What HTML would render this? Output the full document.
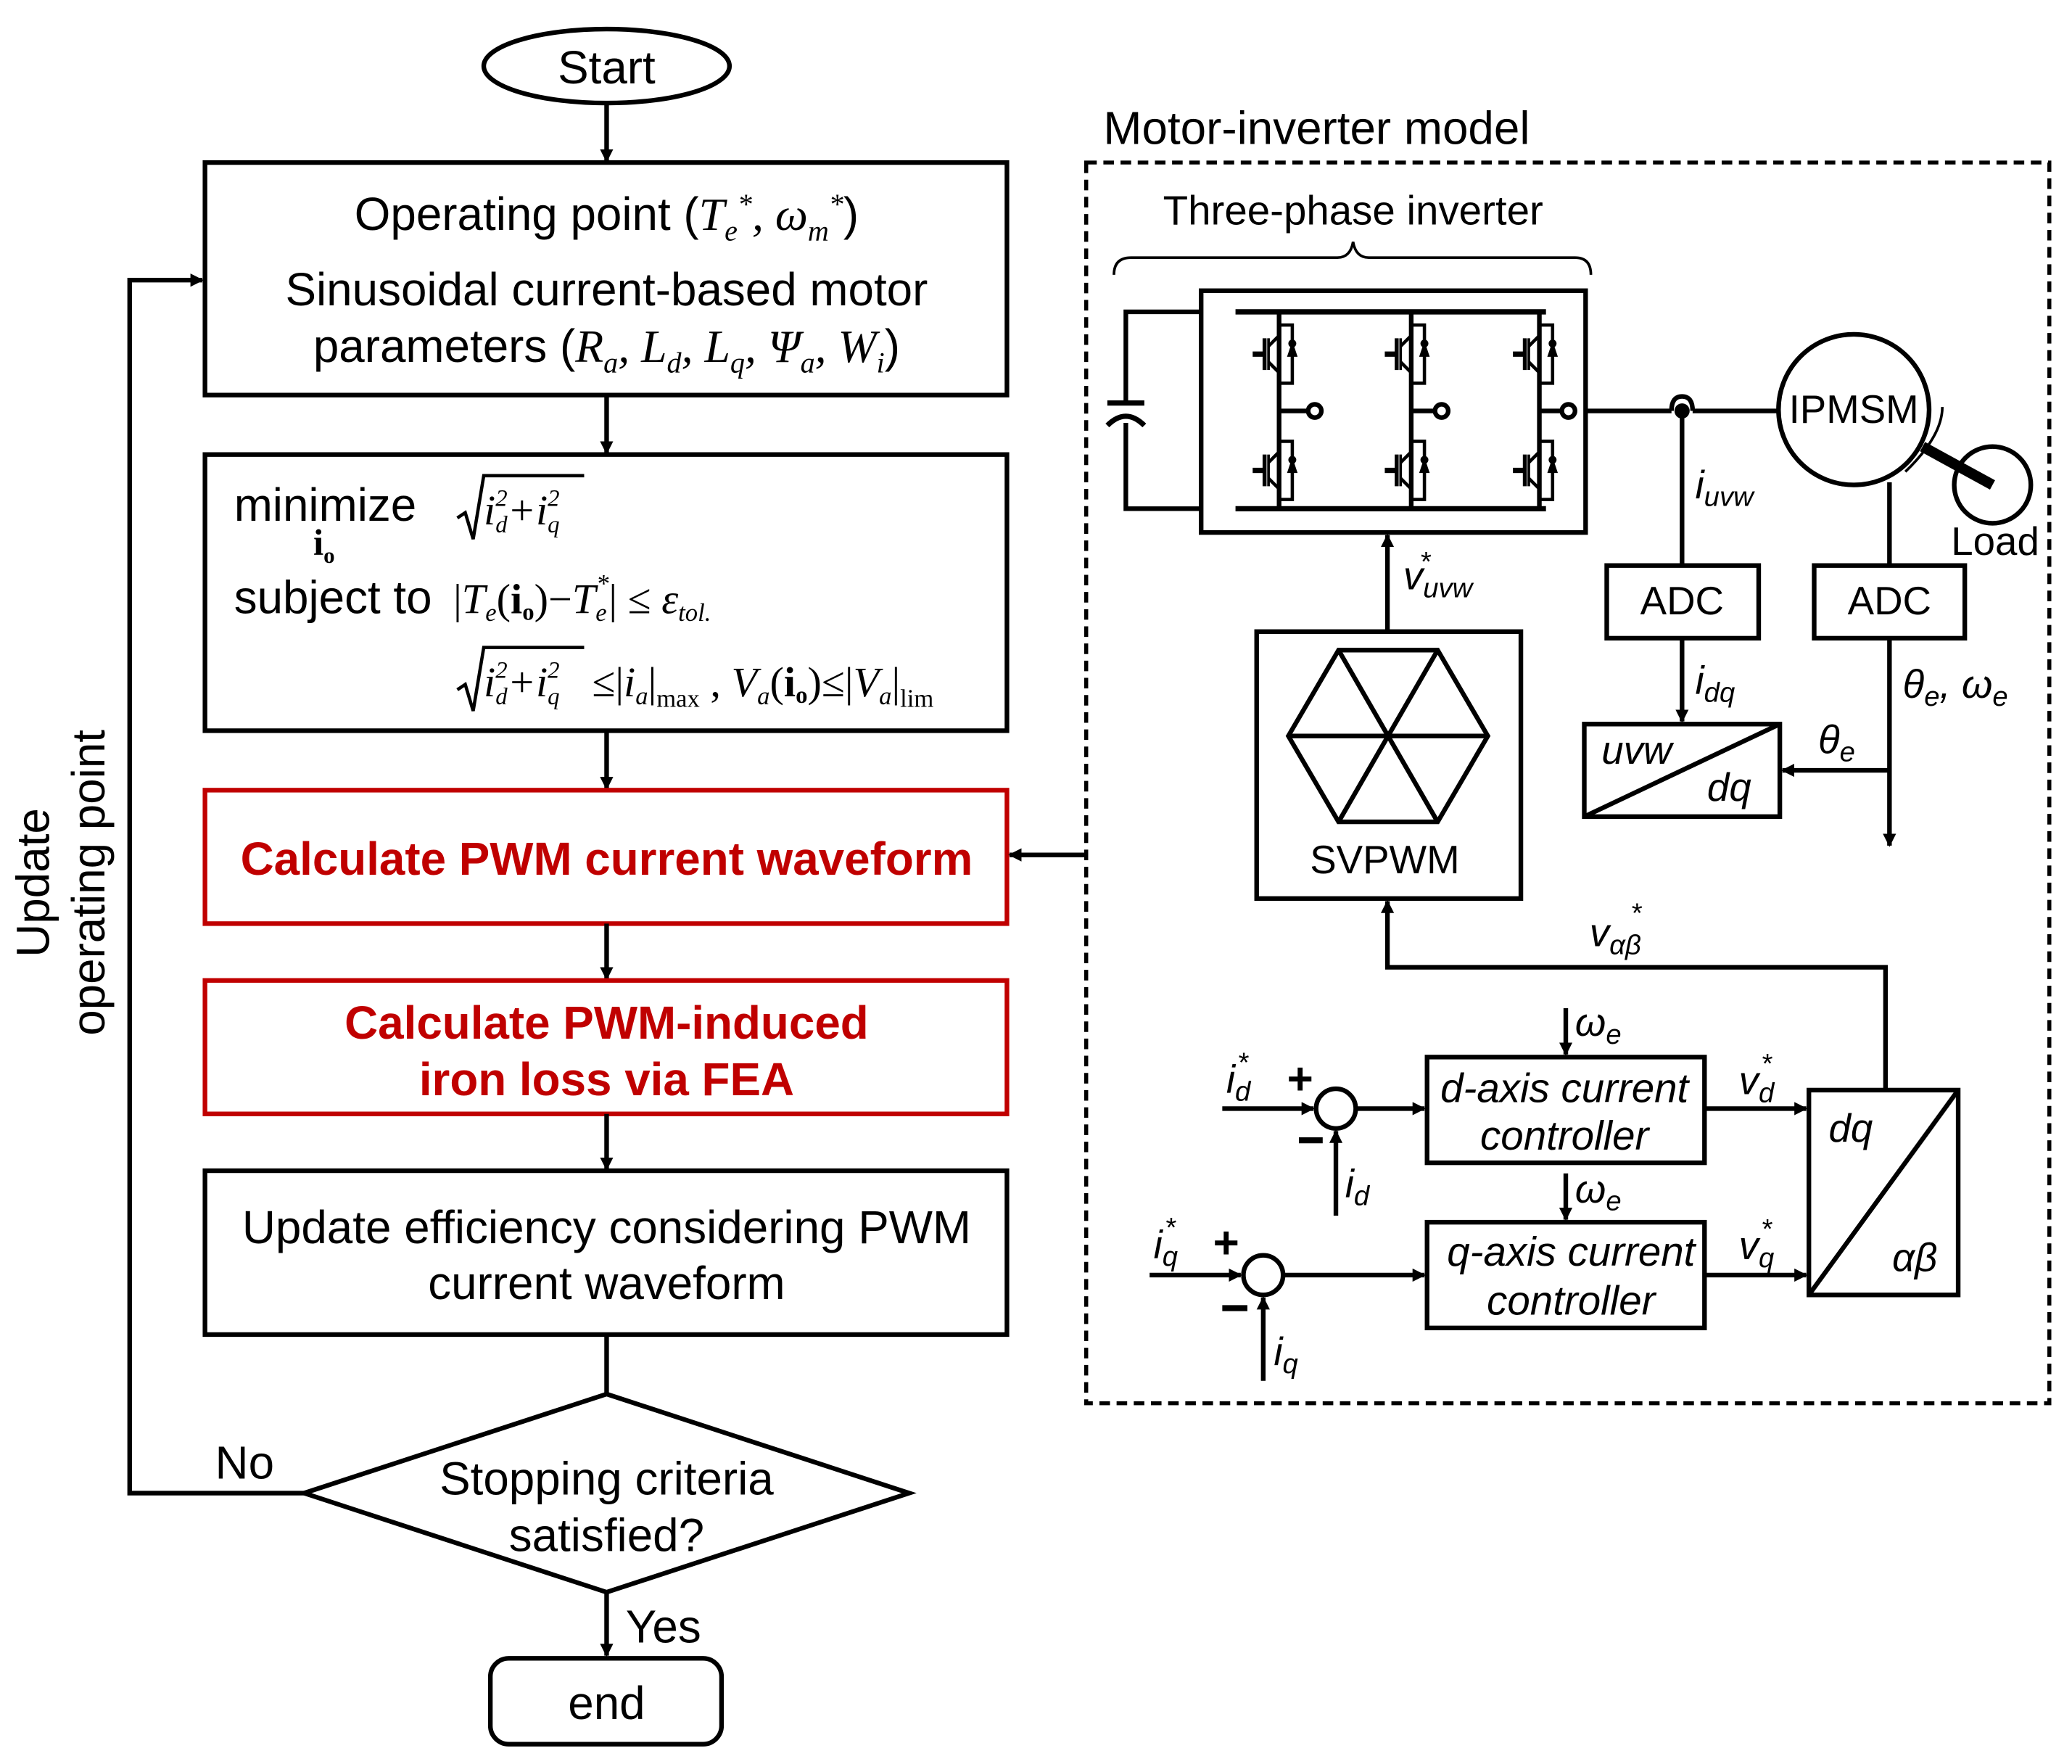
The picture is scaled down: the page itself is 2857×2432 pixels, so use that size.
<!DOCTYPE html>
<html><head><meta charset="utf-8"><style>
html,body{margin:0;padding:0;background:#fff}
svg{display:block}
.s{font-family:"Liberation Sans",sans-serif}
.m{font-family:"Liberation Serif",serif;font-style:italic}
</style></head><body>
<svg width="2857" height="2432" viewBox="0 0 1568 1335" xmlns="http://www.w3.org/2000/svg">
<defs>
<marker id="a" markerWidth="10" markerHeight="10" refX="9" refY="5" orient="auto" markerUnits="userSpaceOnUse">
<path d="M0,0 L10,5 L0,10 Z" fill="#000"/></marker>
<g id="sw">
<line x1="-20" y1="0" x2="-12" y2="0" stroke="#000" stroke-width="4"/>
<line x1="-11" y1="-12" x2="-11" y2="12" stroke="#000" stroke-width="3"/>
<line x1="-8" y1="-12" x2="-8" y2="12" stroke="#000" stroke-width="2"/>
<path d="M-8,-6 L0,-14 L0,-22 M-8,6 L0,14 L0,22" fill="none" stroke="#000" stroke-width="2.5"/>
<path d="M0,-18 L0,-22 L10,-22 L10,22 L0,22" fill="none" stroke="#000" stroke-width="2.5"/>
<path d="M10,-10 L6,2 L14,2 Z" fill="#000"/>
<circle cx="10" cy="-8" r="3" fill="#000"/>
</g>
</defs>
<g stroke="#000" stroke-width="3.5" fill="none">
<ellipse cx="459" cy="50" rx="93" ry="28"/>
<line x1="459" y1="78" x2="459" y2="122" marker-end="url(#a)"/>
<rect x="155" y="123" width="607" height="176"/>
<line x1="459" y1="299" x2="459" y2="343" marker-end="url(#a)"/>
<rect x="155" y="344" width="607" height="209"/>
<line x1="459" y1="553" x2="459" y2="597" marker-end="url(#a)"/>
<rect x="155" y="598" width="607" height="101" stroke="#c00000"/>
<line x1="459" y1="699" x2="459" y2="741" marker-end="url(#a)"/>
<rect x="155" y="742" width="607" height="101" stroke="#c00000"/>
<line x1="459" y1="843" x2="459" y2="885" marker-end="url(#a)"/>
<rect x="155" y="886" width="607" height="124"/>
<line x1="459" y1="1010" x2="459" y2="1054"/>
<path d="M459,1055 L688,1130 L459,1205 L230,1130 Z"/>
<line x1="459" y1="1205" x2="459" y2="1253" marker-end="url(#a)"/>
<rect x="371" y="1255" width="175" height="65" rx="14"/>
<path d="M230,1130 L98,1130 L98,212 L153,212" marker-end="url(#a)"/>
<line x1="822" y1="647" x2="764" y2="647" marker-end="url(#a)"/>
<rect x="822" y="123" width="729" height="939" stroke-dasharray="8,5" stroke-width="3"/>
<path d="M843,208 Q843,195 856,195 L1012,195 Q1022,195 1024,183 Q1026,195 1036,195 L1192,195 Q1204,195 1204,208" stroke-width="2"/>
<rect x="909" y="220" width="291" height="183"/>
<path d="M909,236 L852,236 L852,305 M852,320 L852,385 L909,385"/>
<line x1="838" y1="305" x2="866" y2="305" stroke-width="4"/>
<path d="M838,322 Q852,308 866,322" stroke-width="4"/>
<line x1="935" y1="236" x2="1170" y2="236" stroke-width="4"/>
<line x1="935" y1="385" x2="1170" y2="385" stroke-width="4"/>
<path d="M968,236 L968,385 M1068,236 L1068,385 M1165,236 L1165,385"/>
<line x1="968" y1="311" x2="990" y2="311"/><circle cx="995" cy="311" r="5"/>
<line x1="1068" y1="311" x2="1086" y2="311"/><circle cx="1091" cy="311" r="5"/>
<line x1="1165" y1="311" x2="1182" y2="311"/><circle cx="1187" cy="311" r="5"/>
<line x1="1200" y1="311" x2="1265" y2="311"/>
<path d="M1265,311 Q1265,300 1273,300 Q1281,300 1281,311"/>
<line x1="1281" y1="311" x2="1347" y2="311"/>
<circle cx="1273" cy="311" r="4" fill="#000"/>
<line x1="1273" y1="311" x2="1273" y2="428"/>
<circle cx="1403" cy="310" r="57"/>
<line x1="1455" y1="338" x2="1508" y2="367" stroke-width="8"/>
<circle cx="1508" cy="367" r="29"/>
<path d="M1442,357 Q1470,330 1470,308" stroke-width="2"/>
<line x1="1430" y1="365" x2="1430" y2="428"/>
<rect x="1216" y="428" width="115" height="55"/>
<rect x="1373" y="428" width="114" height="55"/>
<line x1="1273" y1="483" x2="1273" y2="546" marker-end="url(#a)"/>
<rect x="1199" y="548" width="148" height="70"/>
<line x1="1199" y1="618" x2="1347" y2="548"/>
<line x1="1430" y1="483" x2="1430" y2="640" marker-end="url(#a)"/>
<line x1="1430" y1="583" x2="1349" y2="583" marker-end="url(#a)"/>
<rect x="951" y="478" width="200" height="202"/>
<path d="M1013,492 L1088,492 L1126,557 L1088,622 L1013,622 L975,557 Z M1013,492 L1088,622 M1088,492 L1013,622 M975,557 L1126,557"/>
<line x1="1050" y1="478" x2="1050" y2="405" marker-end="url(#a)"/>
<path d="M1427,825 L1427,732 L1050,732 L1050,682" marker-end="url(#a)"/>
<rect x="1080" y="800" width="210" height="80"/>
<rect x="1080" y="925" width="210" height="80"/>
<rect x="1369" y="825" width="113" height="155"/>
<line x1="1369" y1="980" x2="1482" y2="825"/>
<circle cx="1011" cy="839" r="15"/>
<circle cx="956" cy="965" r="15"/>
<line x1="925" y1="839" x2="994" y2="839" marker-end="url(#a)"/>
<line x1="1011" y1="920" x2="1011" y2="856" marker-end="url(#a)"/>
<line x1="1026" y1="839" x2="1078" y2="839" marker-end="url(#a)"/>
<line x1="870" y1="965" x2="939" y2="965" marker-end="url(#a)"/>
<line x1="956" y1="1045" x2="956" y2="982" marker-end="url(#a)"/>
<line x1="971" y1="965" x2="1078" y2="965" marker-end="url(#a)"/>
<line x1="1185" y1="763" x2="1185" y2="798" marker-end="url(#a)"/>
<line x1="1185" y1="888" x2="1185" y2="923" marker-end="url(#a)"/>
<line x1="1290" y1="839" x2="1367" y2="839" marker-end="url(#a)"/>
<line x1="1290" y1="965" x2="1367" y2="965" marker-end="url(#a)"/>
</g>
<g fill="#000">
<use href="#sw" x="968" y="268"/><use href="#sw" x="1068" y="268"/><use href="#sw" x="1165" y="268"/>
<use href="#sw" x="968" y="356"/><use href="#sw" x="1068" y="356"/><use href="#sw" x="1165" y="356"/>
</g>
<g class="s" font-size="35" text-anchor="middle" fill="#000">
<text x="459" y="63">Start</text>
<text x="459" y="174">Operating point (<tspan class="m">T<tspan font-size="22" dy="8">e</tspan><tspan font-size="22" dy="-20">*</tspan><tspan dy="12">, ω</tspan><tspan font-size="22" dy="8">m</tspan><tspan font-size="22" dy="-20">*</tspan></tspan><tspan dy="12">)</tspan></text>
<text x="459" y="231">Sinusoidal current-based motor</text>
<text x="459" y="274">parameters (<tspan class="m">R<tspan font-size="22" dy="8">a</tspan><tspan dy="-8">, L</tspan><tspan font-size="22" dy="8">d</tspan><tspan dy="-8">, L</tspan><tspan font-size="22" dy="8">q</tspan><tspan dy="-8">, Ψ</tspan><tspan font-size="22" dy="8">a</tspan><tspan dy="-8">, W</tspan><tspan font-size="22" dy="8">i</tspan></tspan><tspan dy="-8">)</tspan></text>
<text x="459" y="662" font-weight="bold" fill="#c00000">Calculate PWM current waveform</text>
<text x="459" y="786" font-weight="bold" fill="#c00000">Calculate PWM-induced</text>
<text x="459" y="829" font-weight="bold" fill="#c00000">iron loss via FEA</text>
<text x="459" y="941">Update efficiency considering PWM</text>
<text x="459" y="983">current waveform</text>
<text x="459" y="1131">Stopping criteria</text>
<text x="459" y="1174">satisfied?</text>
<text x="459" y="1301">end</text>
<text x="185" y="1119">No</text>
<text x="502" y="1243">Yes</text>
<text transform="translate(37,668) rotate(-90)">Update</text>
<text transform="translate(79,668) rotate(-90)">operating point</text>
</g>
<g fill="#000">
<text class="s" x="177" y="394" font-size="35">minimize</text>
<text x="237" y="420" font-family="Liberation Serif,serif" font-weight="bold" font-size="28">i<tspan font-size="17" dy="6">o</tspan></text>
<text class="s" x="177" y="464" font-size="35">subject to</text>
<g font-family="Liberation Serif,serif" font-size="32">
<path d="M346,392 L352,388 L358,408 L366,360 L442,360" fill="none" stroke="#000" stroke-width="2.5"/>
<text x="366" y="397" class="m">i<tspan font-size="18" dy="6">d</tspan><tspan font-size="18" dx="-9" dy="-20">2</tspan><tspan dy="14">+</tspan><tspan>i</tspan><tspan font-size="18" dy="6">q</tspan><tspan font-size="18" dx="-9" dy="-20">2</tspan></text>
<text x="343" y="464"><tspan>|</tspan><tspan class="m">T<tspan font-size="19" dy="6">e</tspan></tspan><tspan dy="-6">(</tspan><tspan font-weight="bold">i<tspan font-size="18" dy="5">o</tspan></tspan><tspan dy="-5">)−</tspan><tspan class="m">T<tspan font-size="19" dy="6">e</tspan><tspan font-size="19" dx="-8" dy="-22">*</tspan></tspan><tspan dy="16">| ≤ </tspan><tspan class="m">ε<tspan font-size="19" dy="6">tol.</tspan></tspan></text>
<path d="M346,522 L352,518 L358,538 L366,490 L442,490" fill="none" stroke="#000" stroke-width="2.5"/>
<text x="366" y="527" class="m">i<tspan font-size="18" dy="6">d</tspan><tspan font-size="18" dx="-9" dy="-20">2</tspan><tspan dy="14">+</tspan><tspan>i</tspan><tspan font-size="18" dy="6">q</tspan><tspan font-size="18" dx="-9" dy="-20">2</tspan></text>
<text x="448" y="527">≤|<tspan class="m">i<tspan font-size="19" dy="6">a</tspan></tspan><tspan dy="-6">|</tspan><tspan font-size="19" dy="8">max</tspan><tspan dy="-8"> , </tspan><tspan class="m">V<tspan font-size="19" dy="6">a</tspan></tspan><tspan dy="-6">(</tspan><tspan font-weight="bold">i<tspan font-size="18" dy="5">o</tspan></tspan><tspan dy="-5">)≤|</tspan><tspan class="m">V<tspan font-size="19" dy="6">a</tspan></tspan><tspan dy="-6">|</tspan><tspan font-size="19" dy="8">lim</tspan></text>
</g>
</g>
<g class="s" fill="#000" font-size="30">
<text x="835" y="109" font-size="35">Motor-inverter model</text>
<text x="1024" y="170" text-anchor="middle" font-size="31">Three-phase inverter</text>
<text x="1403" y="320" text-anchor="middle">IPMSM</text>
<text x="1510" y="420" text-anchor="middle">Load</text>
<text x="1273" y="465" text-anchor="middle">ADC</text>
<text x="1430" y="465" text-anchor="middle">ADC</text>
<text x="1048" y="661" text-anchor="middle">SVPWM</text>
<text x="1283" y="377" font-style="italic">i<tspan font-size="21" dy="6">uvw</tspan></text>
<text x="1283" y="525" font-style="italic">i<tspan font-size="21" dy="6">dq</tspan></text>
<text x="1062" y="446" font-style="italic">v<tspan font-size="21" dy="6">uvw</tspan><tspan font-size="21" dx="-40" dy="-20">*</tspan></text>
<text x="1212" y="578" font-style="italic">uvw</text>
<text x="1292" y="606" font-style="italic">dq</text>
<text x="1376" y="570" font-style="italic">θ<tspan font-size="21" dy="6">e</tspan></text>
<text x="1440" y="528" font-style="italic">θ<tspan font-size="21" dy="6">e</tspan><tspan dy="-6">, ω</tspan><tspan font-size="21" dy="6">e</tspan></text>
<text x="1203" y="716" font-style="italic">v<tspan font-size="21" dy="6">αβ</tspan><tspan font-size="21" dx="-8" dy="-24">*</tspan></text>
<text x="1192" y="784" font-style="italic">ω<tspan font-size="21" dy="6">e</tspan></text>
<text x="1192" y="910" font-style="italic">ω<tspan font-size="21" dy="6">e</tspan></text>
<text x="1184" y="834" text-anchor="middle" font-style="italic" font-size="31">d-axis current</text>
<text x="1184" y="870" text-anchor="middle" font-style="italic" font-size="31">controller</text>
<text x="1189" y="958" text-anchor="middle" font-style="italic" font-size="31">q-axis current</text>
<text x="1189" y="995" text-anchor="middle" font-style="italic" font-size="31">controller</text>
<text x="1316" y="828" font-style="italic">v<tspan font-size="21" dy="6">d</tspan><tspan font-size="21" dx="-10" dy="-22">*</tspan></text>
<text x="1316" y="953" font-style="italic">v<tspan font-size="21" dy="6">q</tspan><tspan font-size="21" dx="-10" dy="-22">*</tspan></text>
<text x="1384" y="864" font-style="italic">dq</text>
<text x="1432" y="962" font-style="italic">αβ</text>
<text x="928" y="827" font-style="italic">i<tspan font-size="21" dy="6">d</tspan><tspan font-size="21" dx="-10" dy="-22">*</tspan></text>
<text x="873" y="952" font-style="italic">i<tspan font-size="21" dy="6">q</tspan><tspan font-size="21" dx="-10" dy="-22">*</tspan></text>
<text x="1018" y="906" font-style="italic">i<tspan font-size="21" dy="6">d</tspan></text>
<text x="964" y="1033" font-style="italic">i<tspan font-size="21" dy="6">q</tspan></text>
<text x="974" y="828" font-weight="bold" font-size="34">+</text>
<text x="918" y="952" font-weight="bold" font-size="34">+</text>
</g>
<g stroke="#000" stroke-width="4.5">
<line x1="983" y1="863" x2="1001" y2="863"/>
<line x1="925" y1="990" x2="944" y2="990"/>
</g>
</svg>
</body></html>
